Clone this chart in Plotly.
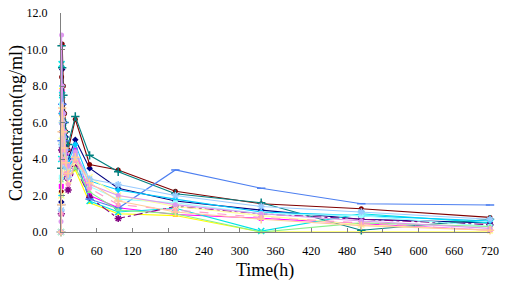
import plotly.graph_objects as go

# Sampling times (h)
times = [0, 0.5, 1, 2, 4, 6, 8, 12, 24, 48, 96, 192, 336, 504, 720]

# Concentration (ng/ml) per subject
s1 = [0, 1.65, 5.5, 8.9, 7.0, 6.0, 5.2, 4.0, 5.06, 3.5, 2.4, 1.7, 1.2, 0.7, 0.5]
s2 = [0, 2.5, 6.0, 7.7, 6.5, 5.0, 4.2, 3.0, 4.5, 2.0, 1.33, 0.96, 0.75, 0.45, 0.1]
s3 = [0, 3.0, 7.9, 6.8, 5.5, 4.5, 3.8, 3.0, 3.4, 1.6, 1.0, 0.9, 0.0, 0.0, 0.0]
s4 = [0, 4.0, 9.2, 7.5, 6.0, 5.0, 4.0, 3.5, 4.2, 1.7, 1.1, 1.3, 0.05, 1.0, 0.5]
s5 = [0, 1.0, 4.5, 6.5, 5.5, 4.2, 3.0, 2.3, 3.6, 1.9, 0.74, 1.4, 1.0, 0.7, 0.4]
s6 = [0, 2.2, 8.5, 10.3, 8.0, 6.5, 5.5, 4.5, 6.18, 3.7, 3.4, 2.23, 1.55, 1.27, 0.8]
s7 = [0, 3.5, 10.2, 9.0, 7.5, 6.0, 5.5, 4.8, 6.33, 4.2, 3.3, 2.1, 1.6, 0.1, 0.7]
s8 = [0, 1.5, 5.0, 7.0, 6.0, 5.0, 4.5, 3.5, 4.0, 1.8, 1.3, 3.4, 2.4, 1.55, 1.48]
s9 = [0, 2.0, 6.5, 8.0, 6.5, 5.5, 4.5, 3.8, 4.8, 2.8, 2.3, 1.8, 1.1, 0.9, 0.6]
s10 = [0, 3.0, 7.0, 6.0, 5.0, 4.5, 4.0, 3.5, 4.0, 2.5, 1.8, 1.6, 1.0, 0.9, 0.3]
s11 = [0, 2.8, 6.0, 5.2, 4.5, 4.0, 3.5, 3.0, 3.5, 2.2, 1.2, 1.0, 0.0, 0.5, 0.3]
s12 = [0, 2.0, 5.0, 6.2, 5.0, 4.0, 3.2, 2.8, 3.8, 3.0, 2.0, 1.4, 0.9, 0.4, 0.1]
s13 = [0, 1.2, 4.8, 6.0, 5.2, 4.4, 3.6, 3.0, 4.3, 2.9, 2.6, 2.0, 1.4, 1.1, 0.7]
s14 = [0, 1.0, 4.0, 5.5, 4.5, 3.8, 3.2, 2.6, 3.9, 2.4, 1.5, 1.2, 0.8, 0.5, 0.1]
s15 = [0.58, 4.0, 10.8, 8.0, 6.5, 5.5, 4.5, 3.6, 4.4, 2.6, 2.0, 1.5, 1.0, 0.6, 0.2]
s16 = [0, 1.5, 5.5, 6.8, 5.5, 4.6, 3.8, 3.2, 4.1, 2.7, 1.7, 1.1, 0.7, 0.35, 0.1]

series = [s1, s2, s3, s4, s5, s6, s7, s8, s9, s10, s11, s12, s13, s14, s15, s16]

x_ticks = list(range(0, 721, 60))
y_ticks = [0, 2, 4, 6, 8, 10, 12]

# Styles
colors = ["#000080", "#FF00FF", "#FFFF00", "#00E5E5", "#800080", "#800000", "#008080", "#4D7FF0",
          "#00CCFF", "#99FFFF", "#88F088", "#FFFF99", "#99CCFF", "#FF99CC", "#DD99EE", "#FFCC99"]
symbols = ["diamond", "square", "triangle-up", "x-thin", "asterisk", "circle", "cross-thin", "line-ew",
           "diamond", "square", "triangle-up", "x-thin", "asterisk", "circle", "circle", "cross-thin"]
dashes = ["solid", "solid", "solid", "solid", "dashdot", "solid", "solid", "solid",
          "solid", "solid", "solid", "solid", "solid", "dash", "solid", "solid"]

fig = go.Figure()
for vals, c, sym, d in zip(series, colors, symbols, dashes):
    open_sym = sym in ("x-thin", "asterisk", "cross-thin", "line-ew")
    fig.add_trace(go.Scatter(
        x=times, y=vals, mode="lines+markers",
        line=dict(color=c, width=1.1, dash=d),
        marker=dict(symbol=sym, size=5 if not open_sym else 6, color=c,
                    line=dict(color=c, width=1.5 if open_sym else 0)),
        cliponaxis=False, showlegend=False))

font_family = "Liberation Serif, Times New Roman, serif"
fig.update_layout(
    width=505, height=286,
    margin=dict(l=61, r=12, t=6, b=54),
    paper_bgcolor="white", plot_bgcolor="white",
    font=dict(family=font_family, color="black", size=12),
    xaxis=dict(range=[0, 720], tickvals=x_ticks, showgrid=False, zeroline=False,
               showline=True, linecolor="#808080", linewidth=1, ticks="inside", ticklen=4,
               tickcolor="#808080", tickfont=dict(family=font_family, size=12),
               ticklabelstandoff=8, ticklabeloverflow="allow"),
    yaxis=dict(range=[0, 12], tickvals=y_ticks, tickformat=".1f", showgrid=False, zeroline=False,
               showline=True, linecolor="#808080", linewidth=1, ticks="inside", ticklen=4,
               tickcolor="#808080", tickfont=dict(family=font_family, size=12),
               ticklabelstandoff=10, ticklabeloverflow="allow"),
    annotations=[
        dict(text="Time(h)", xref="paper", yref="paper", x=0.475, y=-0.177, yanchor="middle",
             showarrow=False, font=dict(size=18)),
        dict(text="Concentration(ng/ml)", xref="paper", yref="paper", x=-0.104, y=0.5,
             xanchor="center", yanchor="middle", textangle=-90, showarrow=False, font=dict(size=18)),
    ],
)

fig.write_html("out.html", config={"displayModeBar": False},
               post_script="document.body.style.margin='0';")
